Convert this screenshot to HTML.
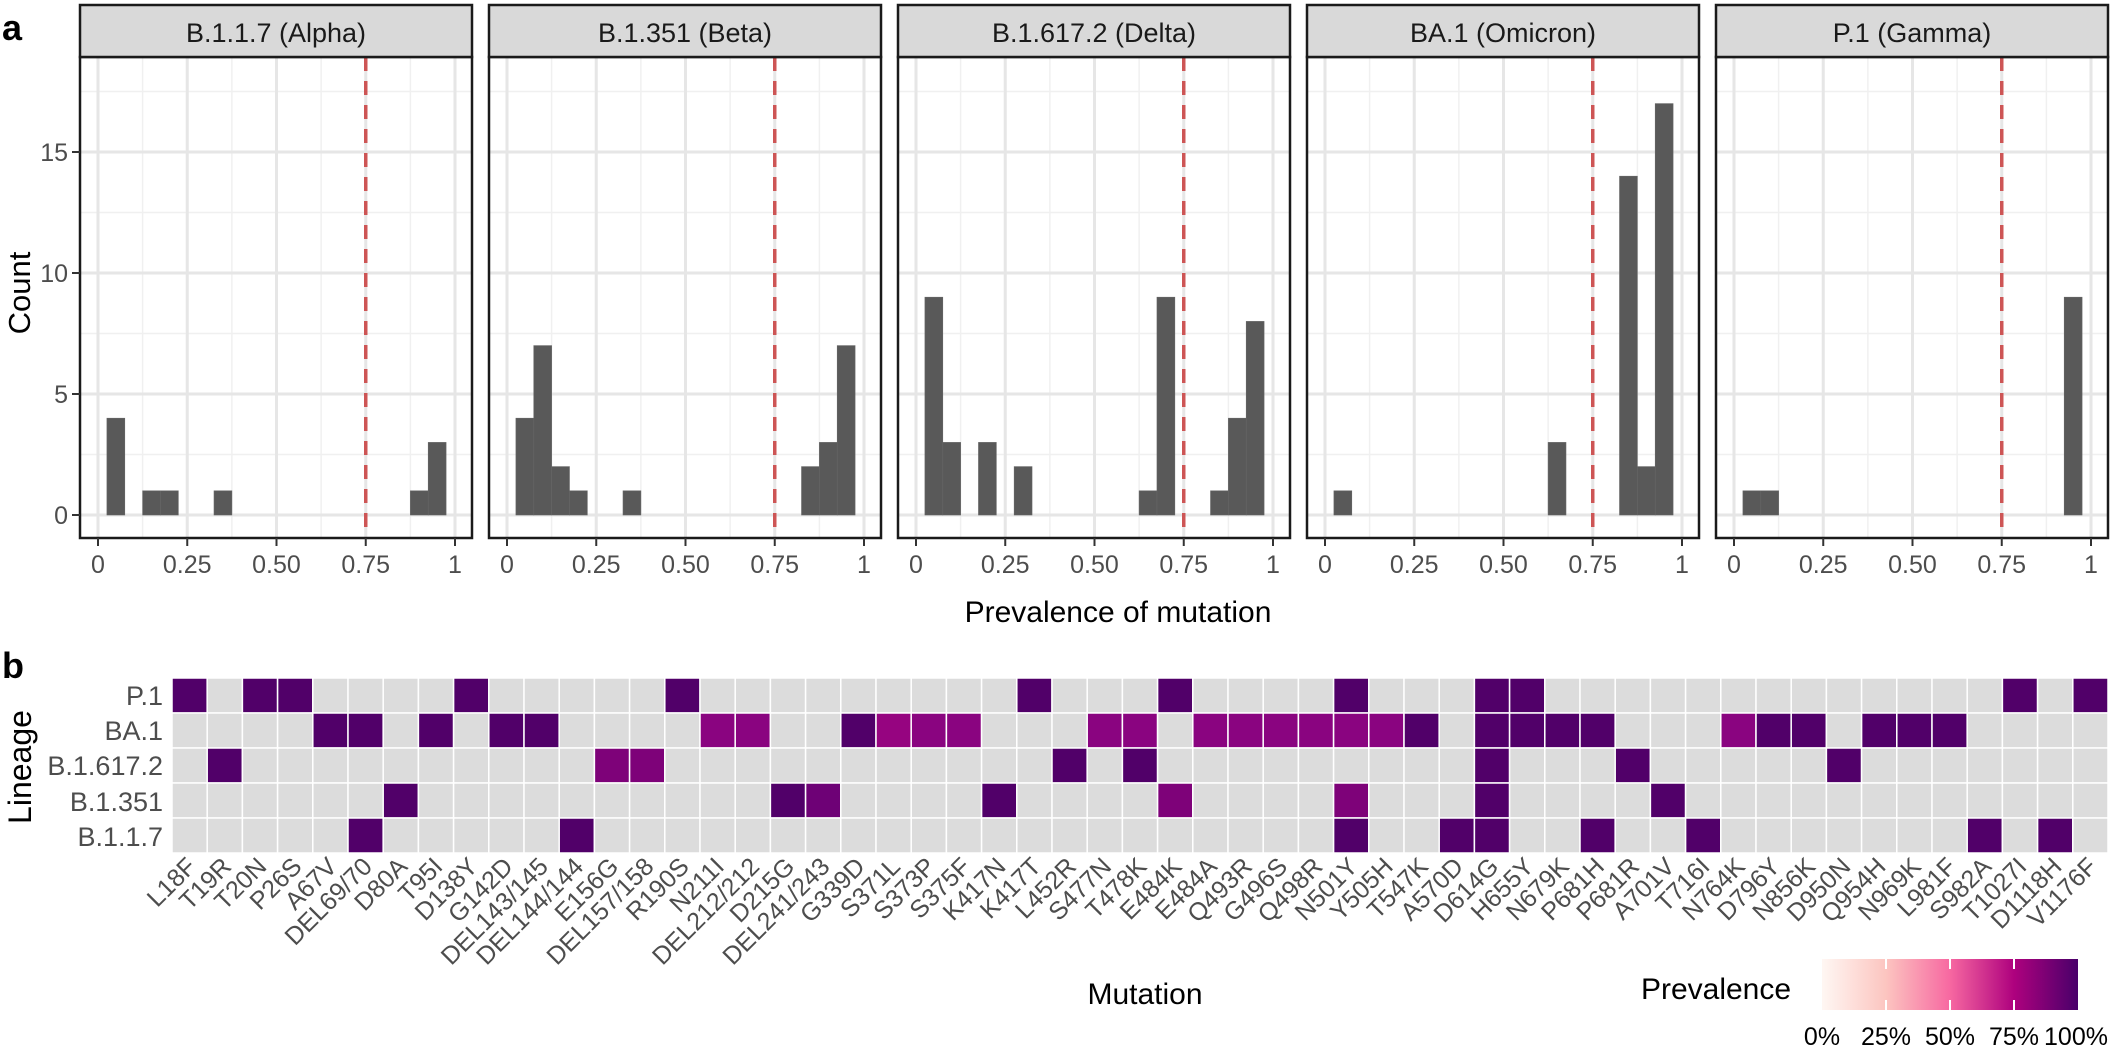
<!DOCTYPE html>
<html><head><meta charset="utf-8"><style>
html,body{margin:0;padding:0;background:#fff;}
svg{display:block;font-family:"Liberation Sans",sans-serif;}
</style></head><body>
<svg id="s" width="2113" height="1049" viewBox="0 0 2113 1049" xmlns="http://www.w3.org/2000/svg">
<defs><linearGradient id="g" x1="0" x2="1" y1="0" y2="0">
<stop offset="0" stop-color="#fff7f3"/><stop offset="0.25" stop-color="#fcc5c0"/><stop offset="0.5" stop-color="#f768a1"/><stop offset="0.75" stop-color="#ae017e"/><stop offset="1" stop-color="#49006a"/></linearGradient></defs>
<g id="shapes"></g>
<text x="2" y="40" font-size="36" font-weight="bold" fill="#000">a</text>
<text x="2" y="678" font-size="36" font-weight="bold" fill="#000">b</text>
<text transform="translate(30,293) rotate(-90)" text-anchor="middle" font-size="31" fill="#000">Count</text>
<g font-size="25" fill="#4d4d4d" text-anchor="end">
<text x="68" y="161">15</text><text x="68" y="282">10</text><text x="68" y="403">5</text><text x="68" y="524">0</text>
</g>
<g font-size="27" fill="#1a1a1a" text-anchor="middle">
<text x="276" y="42">B.1.1.7 (Alpha)</text>
<text x="685" y="42">B.1.351 (Beta)</text>
<text x="1094" y="42">B.1.617.2 (Delta)</text>
<text x="1503" y="42">BA.1 (Omicron)</text>
<text x="1912" y="42">P.1 (Gamma)</text>
</g>
<g id="xt" font-size="25" fill="#4d4d4d" text-anchor="middle"></g>
<text x="1118" y="622" text-anchor="middle" font-size="30" fill="#000">Prevalence of mutation</text>
<text transform="translate(31,767) rotate(-90)" text-anchor="middle" font-size="32" fill="#000">Lineage</text>
<g font-size="27" fill="#4d4d4d" text-anchor="end">
<text x="163" y="705">P.1</text><text x="163" y="740">BA.1</text><text x="163" y="775">B.1.617.2</text><text x="163" y="811">B.1.351</text><text x="163" y="846">B.1.1.7</text>
</g>
<g font-size="25" fill="#4d4d4d" text-anchor="end">
<text transform="translate(197.6,868) rotate(-45)">L18F</text>
<text transform="translate(232.8,868) rotate(-45)">T19R</text>
<text transform="translate(268,868) rotate(-45)">T20N</text>
<text transform="translate(303.2,868) rotate(-45)">P26S</text>
<text transform="translate(338.4,868) rotate(-45)">A67V</text>
<text transform="translate(373.6,868) rotate(-45)">DEL69/70</text>
<text transform="translate(408.8,868) rotate(-45)">D80A</text>
<text transform="translate(444,868) rotate(-45)">T95I</text>
<text transform="translate(479.2,868) rotate(-45)">D138Y</text>
<text transform="translate(514.4,868) rotate(-45)">G142D</text>
<text transform="translate(549.6,868) rotate(-45)">DEL143/145</text>
<text transform="translate(584.8,868) rotate(-45)">DEL144/144</text>
<text transform="translate(620,868) rotate(-45)">E156G</text>
<text transform="translate(655.2,868) rotate(-45)">DEL157/158</text>
<text transform="translate(690.4,868) rotate(-45)">R190S</text>
<text transform="translate(725.6,868) rotate(-45)">N211I</text>
<text transform="translate(760.8,868) rotate(-45)">DEL212/212</text>
<text transform="translate(796,868) rotate(-45)">D215G</text>
<text transform="translate(831.2,868) rotate(-45)">DEL241/243</text>
<text transform="translate(866.4,868) rotate(-45)">G339D</text>
<text transform="translate(901.6,868) rotate(-45)">S371L</text>
<text transform="translate(936.8,868) rotate(-45)">S373P</text>
<text transform="translate(972,868) rotate(-45)">S375F</text>
<text transform="translate(1007.2,868) rotate(-45)">K417N</text>
<text transform="translate(1042.4,868) rotate(-45)">K417T</text>
<text transform="translate(1077.6,868) rotate(-45)">L452R</text>
<text transform="translate(1112.8,868) rotate(-45)">S477N</text>
<text transform="translate(1148,868) rotate(-45)">T478K</text>
<text transform="translate(1183.2,868) rotate(-45)">E484K</text>
<text transform="translate(1218.4,868) rotate(-45)">E484A</text>
<text transform="translate(1253.6,868) rotate(-45)">Q493R</text>
<text transform="translate(1288.8,868) rotate(-45)">G496S</text>
<text transform="translate(1324,868) rotate(-45)">Q498R</text>
<text transform="translate(1359.2,868) rotate(-45)">N501Y</text>
<text transform="translate(1394.4,868) rotate(-45)">Y505H</text>
<text transform="translate(1429.6,868) rotate(-45)">T547K</text>
<text transform="translate(1464.8,868) rotate(-45)">A570D</text>
<text transform="translate(1500,868) rotate(-45)">D614G</text>
<text transform="translate(1535.2,868) rotate(-45)">H655Y</text>
<text transform="translate(1570.4,868) rotate(-45)">N679K</text>
<text transform="translate(1605.6,868) rotate(-45)">P681H</text>
<text transform="translate(1640.8,868) rotate(-45)">P681R</text>
<text transform="translate(1676,868) rotate(-45)">A701V</text>
<text transform="translate(1711.2,868) rotate(-45)">T716I</text>
<text transform="translate(1746.4,868) rotate(-45)">N764K</text>
<text transform="translate(1781.6,868) rotate(-45)">D796Y</text>
<text transform="translate(1816.8,868) rotate(-45)">N856K</text>
<text transform="translate(1852,868) rotate(-45)">D950N</text>
<text transform="translate(1887.2,868) rotate(-45)">Q954H</text>
<text transform="translate(1922.4,868) rotate(-45)">N969K</text>
<text transform="translate(1957.6,868) rotate(-45)">L981F</text>
<text transform="translate(1992.8,868) rotate(-45)">S982A</text>
<text transform="translate(2028,868) rotate(-45)">T1027I</text>
<text transform="translate(2063.2,868) rotate(-45)">D1118H</text>
<text transform="translate(2098.4,868) rotate(-45)">V1176F</text>
</g>
<text x="1145" y="1004" text-anchor="middle" font-size="30" fill="#000">Mutation</text>
<text x="1716" y="999" text-anchor="middle" font-size="30" fill="#000">Prevalence</text>
<rect x="1822" y="959" width="256" height="51" fill="url(#g)"/>
<g stroke="#fff" stroke-width="2"><line x1="1886" y1="959" x2="1886" y2="969"/><line x1="1886" y1="1000" x2="1886" y2="1010"/><line x1="1950" y1="959" x2="1950" y2="969"/><line x1="1950" y1="1000" x2="1950" y2="1010"/><line x1="2014" y1="959" x2="2014" y2="969"/><line x1="2014" y1="1000" x2="2014" y2="1010"/></g>
<g font-size="25" fill="#000" text-anchor="middle">
<text x="1822" y="1045">0%</text><text x="1886" y="1045">25%</text><text x="1950" y="1045">50%</text><text x="2014" y="1045">75%</text><text x="2076" y="1045">100%</text>
</g>
</svg>
<script>
var NS="http://www.w3.org/2000/svg",G=document.getElementById("shapes"),XT=document.getElementById("xt");
function el(t,a,p){var e=document.createElementNS(NS,t);for(var k in a)e.setAttribute(k,a[k]);(p||G).appendChild(e);return e;}
var data=[
{0.05:4,0.15:1,0.2:1,0.35:1,0.9:1,0.95:3},
{0.05:4,0.1:7,0.15:2,0.2:1,0.35:1,0.85:2,0.9:3,0.95:7},
{0.05:9,0.1:3,0.2:3,0.3:2,0.65:1,0.7:9,0.85:1,0.9:4,0.95:8},
{0.05:1,0.65:3,0.85:14,0.9:2,0.95:17},
{0.05:1,0.1:1,0.95:9}];
for(var p=0;p<5;p++){
 var L=80+409*p,W=392,X=function(v){return L+18+357*v;},Y=function(c){return 515-24.2*c;};
 el("rect",{x:L,y:57,width:W,height:481,fill:"#fff"});
 [2.5,7.5,12.5,17.5].forEach(function(c){el("line",{x1:L,x2:L+W,y1:Y(c),y2:Y(c),stroke:"#f0f0f0","stroke-width":1.5});});
 [0.125,0.375,0.625,0.875].forEach(function(v){el("line",{x1:X(v),x2:X(v),y1:57,y2:538,stroke:"#f0f0f0","stroke-width":1.5});});
 [0,5,10,15].forEach(function(c){el("line",{x1:L,x2:L+W,y1:Y(c),y2:Y(c),stroke:"#e6e6e6","stroke-width":3});});
 [0,0.25,0.5,0.75,1].forEach(function(v){el("line",{x1:X(v),x2:X(v),y1:57,y2:538,stroke:"#e6e6e6","stroke-width":3});});
 var d=data[p];for(var k in d){var v=+k;el("rect",{x:X(v-0.025),y:Y(d[k]),width:357*0.05,height:24.2*d[k],fill:"#595959",stroke:"#666","stroke-width":0.6});}
 el("line",{x1:X(0.75),x2:X(0.75),y1:57,y2:538,stroke:"#cd5555","stroke-width":3.5,"stroke-dasharray":"14 10"});
 el("rect",{x:L,y:57,width:W,height:481,fill:"none",stroke:"#1a1a1a","stroke-width":2.5});
 el("rect",{x:L,y:5,width:W,height:52,fill:"#d9d9d9",stroke:"#1a1a1a","stroke-width":2.5});
 var lbl=["0","0.25","0.50","0.75","1"];
 [0,0.25,0.5,0.75,1].forEach(function(v,i){el("line",{x1:X(v),x2:X(v),y1:538,y2:546,stroke:"#333","stroke-width":2});var t=el("text",{x:X(v),y:573},XT);t.textContent=lbl[i];});
}
[0,5,10,15].forEach(function(c){el("line",{x1:72,x2:80,y1:515-24.2*c,y2:515-24.2*c,stroke:"#333","stroke-width":2});});
var D="#510069",M="#8a0480",K="#6e0176",Q="#7e0279",R="#960480";
var rows=[
{0:D,2:D,3:D,8:D,14:D,24:D,28:D,33:D,37:D,38:D,52:D,54:D},
{4:D,5:D,7:D,9:D,10:D,15:M,16:M,19:D,20:R,21:M,22:M,26:M,27:M,29:M,30:M,31:M,32:M,33:M,34:M,35:D,37:D,38:D,39:D,40:D,44:M,45:D,46:D,48:D,49:D,50:D},
{1:D,12:Q,13:Q,25:D,27:D,37:D,41:D,47:D},
{6:D,17:D,18:K,23:D,28:Q,33:Q,37:D,42:D},
{5:D,11:D,33:D,36:D,37:D,40:D,43:D,51:D,53:D}];
for(var r=0;r<5;r++)for(var i=0;i<55;i++){
 el("rect",{x:172+35.2*i,y:678+35*r,width:35.2,height:35,fill:rows[r][i]||"#dcdcdc",stroke:"#fff","stroke-width":1.5});
}
</script>
</body></html>
